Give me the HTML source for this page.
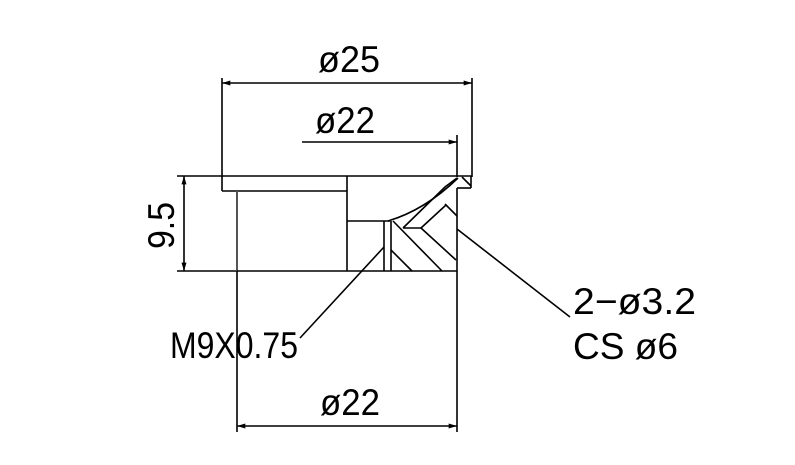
<!DOCTYPE html>
<html><head><style>html,body{margin:0;padding:0;background:#fff;}</style></head>
<body>
<svg width="795" height="460" viewBox="0 0 795 460" xmlns="http://www.w3.org/2000/svg" font-family="Liberation Sans Narrow, Liberation Sans, sans-serif">
<defs>
<marker id="a" viewBox="0 0 10 6" refX="10" refY="3" markerWidth="13" markerHeight="5" orient="auto-start-reverse" markerUnits="userSpaceOnUse"><path d="M0,0L10,3L0,6z" fill="#000"/></marker>
</defs>
<g stroke="#000" stroke-width="1.6" fill="none">
<line x1="222" y1="78" x2="222" y2="177"/>
<line x1="472" y1="78" x2="472" y2="177"/>
<line x1="457" y1="135" x2="457" y2="177"/>
<line x1="177" y1="176" x2="222" y2="176"/>
<line x1="177" y1="271" x2="237" y2="271"/>
<line x1="237" y1="271" x2="237" y2="432"/>
<line x1="457" y1="271" x2="457" y2="432"/>
<line x1="222" y1="83" x2="472" y2="83" marker-start="url(#a)" marker-end="url(#a)"/>
<line x1="302" y1="142" x2="457" y2="142" marker-end="url(#a)"/>
<line x1="184" y1="176" x2="184" y2="271" marker-start="url(#a)" marker-end="url(#a)"/>
<line x1="237" y1="426" x2="457" y2="426" marker-start="url(#a)" marker-end="url(#a)"/>
<line x1="222" y1="176" x2="472" y2="176"/>
<line x1="222" y1="176" x2="222" y2="191"/>
<line x1="222" y1="191" x2="347" y2="191"/>
<line x1="471" y1="176" x2="471" y2="188"/>
<line x1="471" y1="188" x2="457" y2="188"/>
<line x1="457" y1="188" x2="457" y2="271"/>
<line x1="237" y1="191" x2="237" y2="271" stroke="#555" stroke-width="2"/>
<line x1="237" y1="271" x2="457" y2="271"/>
<line x1="347" y1="176" x2="347" y2="271"/>
<line x1="347" y1="221" x2="390" y2="221"/>
<line x1="384" y1="221" x2="384" y2="271"/>
<line x1="391" y1="221" x2="391" y2="271"/>
<path d="M388,221 Q425,210 458,178"/>
<path d="M403,228 L445,187 L457,178"/>
<line x1="403" y1="228" x2="421" y2="228"/>
<line x1="421" y1="228" x2="446" y2="205"/>
<line x1="462" y1="177" x2="471" y2="186"/>
<line x1="393" y1="221" x2="442" y2="271"/>
<line x1="421" y1="228" x2="456" y2="260"/>
<line x1="445" y1="204" x2="457" y2="216"/>
<line x1="391" y1="250" x2="412" y2="271"/>
<line x1="384" y1="247" x2="300" y2="338"/>
<line x1="457" y1="229" x2="570" y2="317"/>
</g>
<g fill="#000" font-size="37">
<text x="318" y="72" textLength="62" lengthAdjust="spacingAndGlyphs">ø25</text>
<text x="315" y="133" textLength="60" lengthAdjust="spacingAndGlyphs">ø22</text>
<text x="320" y="415" textLength="60" lengthAdjust="spacingAndGlyphs">ø22</text>
<text x="170" y="358" textLength="128" lengthAdjust="spacingAndGlyphs">M9X0.75</text>
<text x="573" y="314" textLength="123" lengthAdjust="spacingAndGlyphs">2−ø3.2</text>
<text x="573" y="359" textLength="105" lengthAdjust="spacingAndGlyphs">CS  ø6</text>
<text transform="translate(174,249) rotate(-90)" textLength="47" lengthAdjust="spacingAndGlyphs">9.5</text>
</g>
</svg>
</body></html>
